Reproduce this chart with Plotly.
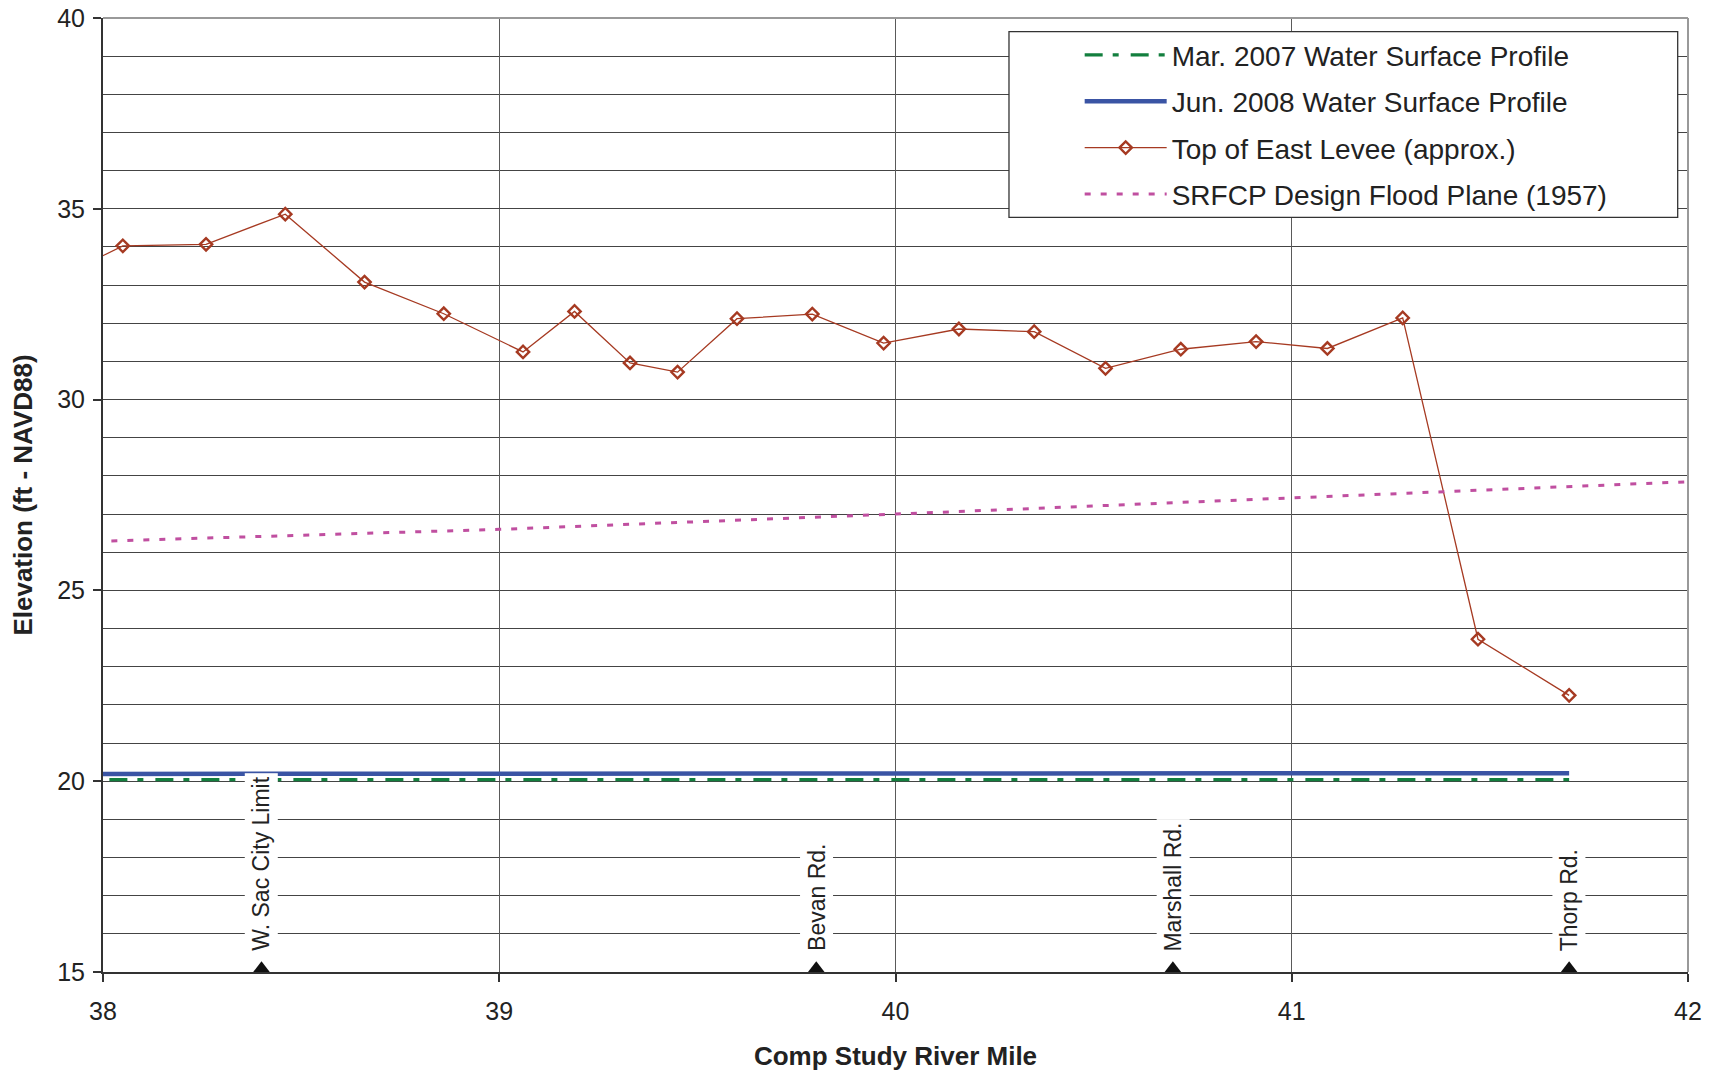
import plotly.graph_objects as go

# ---- data ----
levee_mile = [37.85, 38.05, 38.26, 38.46, 38.66, 38.86, 39.06, 39.19, 39.33, 39.45, 39.60,
              39.79, 39.97, 40.16, 40.35, 40.53, 40.72, 40.91, 41.09, 41.28, 41.47, 41.70]
levee_elev = [33.00, 34.03, 34.07, 34.86, 33.08, 32.25, 31.25, 32.31, 30.96, 30.72, 32.12,
              32.24, 31.48, 31.85, 31.78, 30.82, 31.32, 31.52, 31.34, 32.14, 23.72, 22.25]

ws2007_mile = [37.9, 41.70]
ws2007_elev = [20.04, 20.04]

ws2008_mile = [37.9, 41.70]
ws2008_elev = [20.19, 20.21]

flood_mile = [37.9, 39.0, 40.0, 41.0, 42.1]
flood_elev = [26.26, 26.60, 27.00, 27.42, 27.89]

road_mile = [38.40, 39.80, 40.70, 41.70]
road_names = ["W. Sac City Limit", "Bevan Rd.", "Marshall Rd.", "Thorp Rd."]

x_ticks = [38, 39, 40, 41, 42]
y_ticks = [15, 20, 25, 30, 35, 40]

FONT = "Liberation Sans, Arial, sans-serif"
TXT = "#222222"

fig = go.Figure()

fig.add_trace(go.Scatter(
    x=ws2007_mile, y=ws2007_elev, mode="lines",
    name="Mar. 2007 Water Surface Profile", legendgroup="a",
    line=dict(color="#137F3E", width=3.3, dash="18px,10px,6px,12px"),
))
fig.add_trace(go.Scatter(
    x=ws2008_mile, y=ws2008_elev, mode="lines",
    name="Jun. 2008 Water Surface Profile", legendgroup="b",
    line=dict(color="#3A54A4", width=4.5),
))
fig.add_trace(go.Scatter(
    x=levee_mile, y=levee_elev, mode="lines+markers",
    name="Top of East Levee (approx.)", legendgroup="c",
    line=dict(color="#A63A22", width=1.3),
    marker=dict(symbol="diamond-open", size=9.5, color="#A63A22", line=dict(width=2.4, color="#A63A22")),
))
fig.add_trace(go.Scatter(
    x=flood_mile, y=flood_elev, mode="lines",
    name="SRFCP Design Flood Plane (1957)", legendgroup="d",
    line=dict(color="#C04FA0", width=3, dash="6px,10px"),
))
fig.add_trace(go.Scatter(
    x=road_mile, y=[15.06] * len(road_mile), mode="markers",
    marker=dict(symbol="triangle-up", size=17, color="#111111"),
    showlegend=False, cliponaxis=False, hoverinfo="skip",
))

for xm, nm in zip(road_mile, road_names):
    fig.add_annotation(
        x=xm, y=15.44, xref="x", yref="y", text=nm, showarrow=False,
        textangle=-90, xanchor="center", yanchor="bottom",
        bgcolor="white", borderpad=3,
        font=dict(family=FONT, size=23, color=TXT),
    )

# legend frame and plot frame (top/right)
fig.add_shape(type="rect", xref="paper", yref="paper",
              x0=0.5716, x1=0.9935, y0=0.7911, y1=0.9857,
              fillcolor="white", line=dict(color="#333333", width=1.3), layer="above")
fig.add_shape(type="line", xref="paper", yref="paper", x0=0, x1=1, y0=1, y1=1,
              line=dict(color="#999999", width=2), layer="above")
fig.add_shape(type="line", xref="paper", yref="paper", x0=1, x1=1, y0=0, y1=1,
              line=dict(color="#999999", width=2), layer="above")

fig.update_layout(
    width=1711, height=1073,
    margin=dict(l=103, r=23, t=18, b=101, autoexpand=False),
    paper_bgcolor="white", plot_bgcolor="white",
    font=dict(family=FONT, color=TXT),
    showlegend=True,
    legend=dict(
        x=0.6162, y=0.9873, xanchor="left", yanchor="top",
        bgcolor="rgba(0,0,0,0)", borderwidth=0,
        font=dict(family=FONT, size=28, color=TXT),
        itemwidth=82, traceorder="grouped", tracegroupgap=7,
    ),
    xaxis=dict(
        range=[38, 42], tickvals=x_ticks, ticktext=[str(v) for v in x_ticks],
        ticks="outside", ticklen=8, tickcolor="#333333", tickwidth=1.5,
        ticklabelstandoff=8, automargin=False,
        showgrid=True, gridcolor="#5a5a5a", gridwidth=1,
        showline=True, linecolor="#333333", linewidth=2,
        zeroline=False,
        tickfont=dict(family=FONT, size=25, color=TXT),
        title=dict(text="<b>Comp Study River Mile</b>", font=dict(family=FONT, size=26, color=TXT), standoff=23),
    ),
    yaxis=dict(
        range=[15, 40], tickvals=y_ticks, ticktext=[str(v) for v in y_ticks],
        ticks="outside", ticklen=8, tickcolor="#333333", tickwidth=1.5,
        ticklabelstandoff=3, automargin=False,
        showgrid=True, gridcolor="#444444", gridwidth=1,
        minor=dict(dtick=1, showgrid=True, gridcolor="#444444", gridwidth=1, ticks=""),
        showline=True, linecolor="#333333", linewidth=2,
        zeroline=False,
        tickfont=dict(family=FONT, size=25, color=TXT),
        title=dict(text="<b>Elevation (ft - NAVD88)</b>", font=dict(family=FONT, size=26, color=TXT), standoff=17),
    ),
)

fig.write_html("out.html")
